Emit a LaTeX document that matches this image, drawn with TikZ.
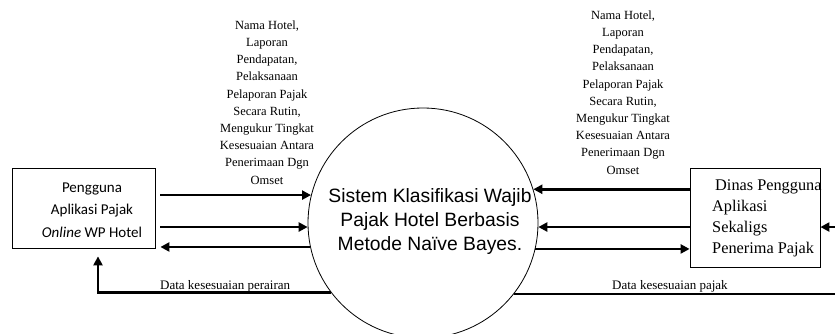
\documentclass[tikz,border=0pt]{standalone}
\usepackage{fontspec}
\setmainfont{Liberation Serif}
\newfontfamily\carlitofont{Carlito}
\newfontfamily\arialfont{Liberation Sans}
\usetikzlibrary{arrows.meta,calc}
\begin{document}
\begin{tikzpicture}[x=1pt,y=-1pt,
  flow/.style={line width=2.6pt},
  tip/.style={-{Triangle[length=9pt,width=9pt]}},
  box/.style={draw, line width=0.8pt, rectangle, inner sep=0pt},
  lbl/.style={font=\fontsize{12.5}{17.2}\selectfont, align=center, inner sep=0pt},
  botlbl/.style={font=\fontsize{13}{15}\selectfont, anchor=base west, inner sep=0pt}]
\useasboundingbox (0,0) rectangle (835,334);
% entities
\node[box, minimum width=143pt, minimum height=80pt] (lbox) at (83.5,208) {};
\node[font=\carlitofont\fontsize{15}{22.5}\selectfont, align=center, inner sep=0pt] (ltxt) at (92,210)
  {Pengguna\\Aplikasi Pajak\\\textit{Online} WP Hotel};
\node[box, minimum width=130pt, minimum height=99pt] (rbox) at (755,217.5) {};
\node[font=\fontsize{16.3}{21}\selectfont, align=left, anchor=west, inner sep=0pt] (rtxt) at (712,218)
  {\hspace*{3pt}Dinas Pengguna\\Aplikasi\\Sekaligs\\Penerima Pajak};
% process
\node[circle, draw, line width=0.8pt, minimum size=230pt, inner sep=0pt] (sys) at (423,223) {};
\node[font=\arialfont\fontsize{19.3}{24}\selectfont, align=center, inner sep=0pt] (systxt) at (430,222)
  {Sistem Klasifikasi Wajib\\Pajak Hotel Berbasis\\Metode Naïve Bayes.};
% labels
\node[lbl] (ltop) at (267,102.5) {Nama Hotel,\\Laporan\\Pendapatan,\\Pelaksanaan\\Pelaporan Pajak\\Secara Rutin,\\Mengukur Tingkat\\Kesesuaian Antara\\Penerimaan Dgn\\Omset};
\node[lbl] (rtop) at (623,92.5) {Nama Hotel,\\Laporan\\Pendapatan,\\Pelaksanaan\\Pelaporan Pajak\\Secara Rutin,\\Mengukur Tingkat\\Kesesuaian Antara\\Penerimaan Dgn\\Omset};
\node[botlbl] (lbot) at (160,289) {Data kesesuaian perairan};
\node[botlbl] (rbot) at (612,289) {Data kesesuaian pajak};
% helper coordinates
\coordinate (lcol) at (98,0);
\coordinate (redge) at (837,0);
% left flows
\draw[flow,tip] ($(lbox.east |- sys.166.9)+(5,0)$) -- (sys.166.9);
\draw[flow,tip] ($(lbox.east |- sys.182)+(5,0)$) -- (sys.182);
\draw[flow,tip] (sys.192.6) -- ($(lbox.east |- sys.192.6)+(5,0)$);
\draw[flow,tip] (sys.217.5) -- (sys.217.5 -| lcol) -- ($(lbox.south -| lcol)+(0,8)$);
% right flows
\draw[flow,tip] (rbox.west |- sys.17.2) -- (sys.17.2);
\draw[flow,tip] (rbox.west |- sys.358) -- (sys.358);
\draw[flow,tip] (sys.347.4) -- (rbox.west |- sys.347.4);
\draw[flow,tip] (redge |- sys.358) -- (rbox.east |- sys.358);
\draw[flow] (sys.322.5) -- (redge |- sys.322.5);
\end{tikzpicture}
\end{document}
